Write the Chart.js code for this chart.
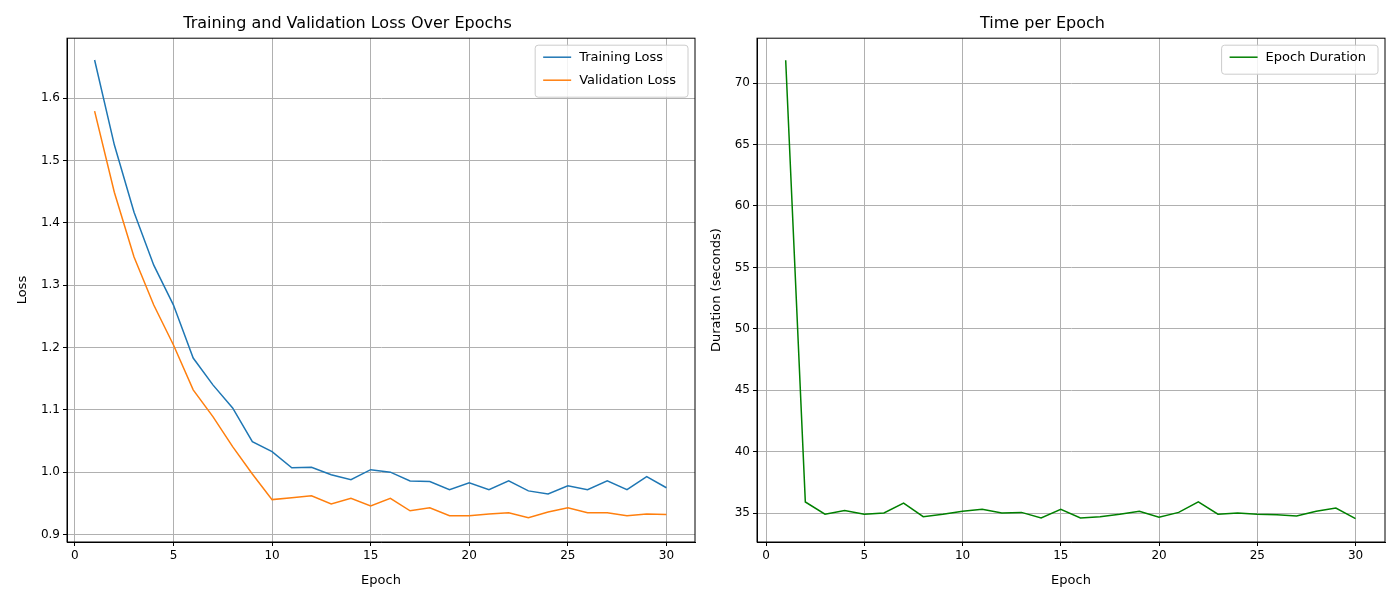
<!DOCTYPE html>
<html>
<head>
<meta charset="utf-8">
<script src="https://cdn.jsdelivr.net/npm/chart.js@4"></script>
<style>
  body { margin: 0; background: #fff; }
  .box { position: absolute; top: 0; width: 700px; height: 600px; }
</style>
</head>
<body>
<div class="box" style="left:0"><canvas id="lossChart" width="700" height="600"></canvas></div>
<div class="box" style="left:700px"><canvas id="timeChart" width="700" height="600"></canvas></div>
<script>
const epochs = Array.from({ length: 30 }, (_, i) => i + 1);
const trainLoss = [1.661, 1.525, 1.417, 1.332, 1.268, 1.183, 1.140, 1.103, 1.049, 1.033,
    1.007, 1.008, 0.996, 0.988, 1.004, 1.000, 0.986, 0.985, 0.972, 0.983,
    0.972, 0.986, 0.970, 0.965, 0.978, 0.972, 0.986, 0.972, 0.993, 0.975];
const valLoss = [1.579, 1.449, 1.345, 1.268, 1.204, 1.132, 1.089, 1.041, 0.997, 0.956,
    0.959, 0.962, 0.949, 0.958, 0.946, 0.958, 0.938, 0.943, 0.930, 0.930,
    0.933, 0.935, 0.927, 0.936, 0.943, 0.935, 0.935, 0.930, 0.933, 0.932];
const epochDuration = [71.87, 35.9, 34.9, 35.2, 34.9, 35.0, 35.8, 34.7, 34.9, 35.15,
    35.3, 35.0, 35.05, 34.6, 35.3, 34.6, 34.7, 34.9, 35.15, 34.65,
    35.05, 35.9, 34.9, 35.0, 34.9, 34.85, 34.75, 35.15, 35.4, 34.55];
const xTicks = [0, 5, 10, 15, 20, 25, 30];
const lossTicks = [0.9, 1.0, 1.1, 1.2, 1.3, 1.4, 1.5, 1.6];
const timeTicks = [35, 40, 45, 50, 55, 60, 65, 70];

const FONT = 'DejaVu Sans';
Chart.defaults.font.family = FONT;
Chart.defaults.color = '#000';

// frame + legend box inside the plot area
const framePlugin = {
    id: 'frame',
    afterDatasetsDraw(chart) {
        const { ctx, chartArea: a } = chart;
        ctx.save();
        ctx.strokeStyle = '#000';
        ctx.lineWidth = 1;
        ctx.strokeRect(a.left, a.top, a.right - a.left, a.bottom - a.top);
        const sets = chart.data.datasets;
        ctx.font = '13px ' + FONT;
        let w = 0;
        sets.forEach(d => { w = Math.max(w, ctx.measureText(d.label).width); });
        const bw = w + 56, bh = sets.length * 23 + 6;
        const x = a.right - bw - 7, y = a.top + 7;
        ctx.fillStyle = 'rgba(255,255,255,0.85)';
        ctx.strokeStyle = '#ccc';
        ctx.beginPath();
        ctx.roundRect(x, y, bw, bh, 3);
        ctx.fill();
        ctx.stroke();
        sets.forEach((d, i) => {
            const cy = y + 12 + i * 23;
            ctx.strokeStyle = d.borderColor;
            ctx.lineWidth = 1.5;
            ctx.beginPath();
            ctx.moveTo(x + 8, cy);
            ctx.lineTo(x + 36, cy);
            ctx.stroke();
            ctx.fillStyle = '#000';
            ctx.textBaseline = 'middle';
            ctx.fillText(d.label, x + 44, cy);
        });
        ctx.restore();
    }
};

function makeChart(id, title, yTitle, datasets, xr, yr, yTicks, yWidth, rightPad, yTitlePad, fmt) {
    return new Chart(document.getElementById(id), {
        type: 'line',
        data: { datasets },
        options: {
            responsive: false,
            animation: false,
            layout: { padding: { right: rightPad, left: 0, top: 0, bottom: 0 } },
            elements: { point: { radius: 0 }, line: { borderWidth: 1.5, tension: 0 } },
            plugins: {
                legend: { display: false },
                tooltip: { enabled: false },
                title: { display: true, text: title, font: { size: 16, weight: 'normal' }, padding: { top: 14, bottom: 5 } }
            },
            scales: {
                x: {
                    type: 'linear', min: xr[0], max: xr[1],
                    afterBuildTicks: s => { s.ticks = xTicks.map(v => ({ value: v })); },
                    afterFit: s => { s.height = 58; },
                    grid: { color: '#b0b0b0', tickColor: '#000', tickLength: 4 },
                    border: { color: '#000' },
                    ticks: { font: { size: 12 }, padding: 3 },
                    title: { display: true, text: 'Epoch', font: { size: 13 }, padding: { top: 2, bottom: 12 } }
                },
                y: {
                    min: yr[0], max: yr[1],
                    afterBuildTicks: s => { s.ticks = yTicks.map(v => ({ value: v })); },
                    afterFit: s => { s.width = yWidth; },
                    grid: { color: '#b0b0b0', tickColor: '#000', tickLength: 4 },
                    border: { color: '#000' },
                    ticks: { font: { size: 12 }, padding: 3, callback: fmt },
                    title: { display: true, text: yTitle, font: { size: 13 }, padding: { top: yTitlePad, bottom: 0 } }
                }
            }
        },
        plugins: [framePlugin]
    });
}

makeChart('lossChart', 'Training and Validation Loss Over Epochs', 'Loss', [
    { label: 'Training Loss', data: epochs.map((e, i) => ({ x: e, y: trainLoss[i] })), borderColor: '#1f77b4' },
    { label: 'Validation Loss', data: epochs.map((e, i) => ({ x: e, y: valLoss[i] })), borderColor: '#ff7f0e' }
], [-0.4, 31.45], [0.888, 1.696], lossTicks, 67, 5, 15, v => v.toFixed(1));

makeChart('timeChart', 'Time per Epoch', 'Duration (seconds)', [
    { label: 'Epoch Duration', data: epochs.map((e, i) => ({ x: e, y: epochDuration[i] })), borderColor: 'green' }
], [-0.46, 31.5], [32.64, 73.66], timeTicks, 57, 15, 9, v => String(v));
</script>
</body>
</html>
